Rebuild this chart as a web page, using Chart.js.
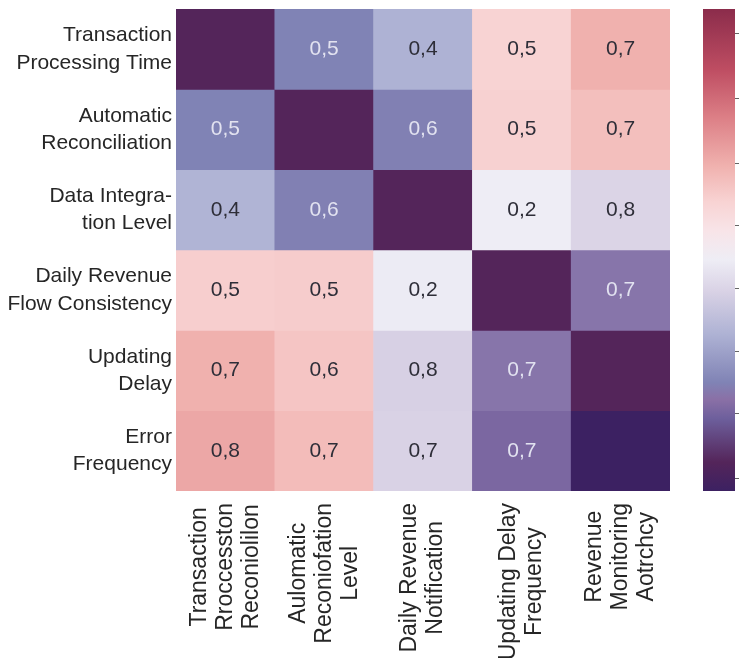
<!DOCTYPE html>
<html>
<head>
<meta charset="utf-8">
<script src="https://cdn.jsdelivr.net/npm/chart.js@4.4.1/dist/chart.umd.min.js"></script>
<style>
  html, body { margin: 0; padding: 0; background: #fff; overflow: hidden; }
  #wrap { position: relative; width: 739px; height: 658px; }
  #heat { position: absolute; left: 0; top: 0; }
  #bar { position: absolute; left: 703px; top: 0; }
</style>
</head>
<body>
<div id="wrap">
  <canvas id="heat" width="739" height="658"></canvas>
  <canvas id="bar" width="36" height="658"></canvas>
</div>
<script>
// rows (left labels)
const rowLabels = [
  ['Transaction', 'Processing Time'],
  ['Automatic', 'Reconciliation'],
  ['Data Integra-', 'tion Level'],
  ['Daily Revenue', 'Flow Consistency'],
  ['Updating', 'Delay'],
  ['Error', 'Frequency']
];

// columns (bottom labels)
const colLabels = [
  ['Transaction', 'Rroccesston', 'Reconiolilon'],
  ['Aulomatic', 'Reconiofation', 'Level'],
  ['Daily Revenue', 'Notification'],
  ['Updating Delay', 'Frequency'],
  ['Revenue', 'Monitoring', 'Aotrchcy']
];

// numbers written in the cells (null = blank)
const cellText = [
  [null, 0.5, 0.4, 0.5, 0.7],
  [0.5, null, 0.6, 0.5, 0.7],
  [0.4, 0.6, null, 0.2, 0.8],
  [0.5, 0.5, 0.2, null, 0.7],
  [0.7, 0.6, 0.8, 0.7, null],
  [0.8, 0.7, 0.7, 0.7, null]
];

// where each cell sits on the colour scale (-1 .. 1)
const cellShade = [
  [-0.88, -0.55, -0.35, 0.20, 0.35],
  [-0.55, -0.88, -0.56, 0.21, 0.29],
  [-0.34, -0.56, -0.88, -0.04, -0.16],
  [0.22, 0.23, -0.05, -0.88, -0.60],
  [0.35, 0.26, -0.18, -0.60, -0.88],
  [0.39, 0.30, -0.17, -0.66, -1.00]
];

// colour bar tick positions
const barTicks = [0.9, 0.63, 0.36, 0.1, -0.16, -0.42, -0.68, -0.95];

// colour map
const colorStops = [
  [-1.00, '#3c2162'],
  [-0.88, '#54255a'],
  [-0.70, '#6d5f9c'],
  [-0.62, '#8a70a6'],
  [-0.55, '#8083b5'],
  [-0.35, '#aeb2d4'],
  [-0.17, '#d9d2e5'],
  [-0.04, '#eeedf5'],
  [0.08, '#f8e4e8'],
  [0.20, '#f8d3d3'],
  [0.35, '#f0b1ae'],
  [0.55, '#dc7f86'],
  [0.75, '#be4d62'],
  [1.00, '#8b2c4b']
];

function hexRgb(h) {
  return [parseInt(h.slice(1, 3), 16), parseInt(h.slice(3, 5), 16), parseInt(h.slice(5, 7), 16)];
}

function shadeColor(v) {
  for (let i = 1; i < colorStops.length; i++) {
    const [v1, c1] = colorStops[i];
    const [v0, c0] = colorStops[i - 1];
    if (v <= v1) {
      const t = (v - v0) / (v1 - v0);
      const a = hexRgb(c0), b = hexRgb(c1);
      const m = a.map((x, k) => Math.round(x + (b[k] - x) * t));
      return 'rgb(' + m.join(',') + ')';
    }
  }
  return colorStops[colorStops.length - 1][1];
}

const FONT = '"Liberation Sans", Arial, sans-serif';

// numbers in the cells + rotated column names
const cellLabels = {
  id: 'cellLabels',
  afterDatasetsDraw(chart) {
    const ctx = chart.ctx;
    ctx.save();
    ctx.font = '21px ' + FONT;
    ctx.textAlign = 'center';
    ctx.textBaseline = 'middle';
    cellText.forEach((row, r) => {
      const meta = chart.getDatasetMeta(r);
      row.forEach((v, c) => {
        if (v === null) return;
        const p = meta.data[c].getCenterPoint();
        ctx.fillStyle = cellShade[r][c] <= -0.5 ? '#e2e2f0' : '#2e2e38';
        ctx.fillText(v.toFixed(1).replace('.', ','), p.x, p.y);
      });
    });

    const xs = chart.scales.x;
    ctx.font = '23px ' + FONT;
    ctx.fillStyle = '#262626';
    colLabels.forEach((lines, c) => {
      const x = xs.getPixelForValue(c);
      const widest = Math.max(...lines.map(t => ctx.measureText(t).width));
      ctx.save();
      ctx.translate(x, xs.top + 12 + widest / 2);
      ctx.rotate(-Math.PI / 2);
      lines.forEach((t, i) => ctx.fillText(t, 0, (i - (lines.length - 1) / 2) * 26));
      ctx.restore();
    });
    ctx.restore();
  }
};

new Chart(document.getElementById('heat'), {
  type: 'bar',
  data: {
    labels: colLabels.map(l => l.join(' ')),
    datasets: rowLabels.map((lab, r) => ({
      label: lab.join(' '),
      data: colLabels.map(() => [r, r + 1]),
      backgroundColor: cellShade[r].map(shadeColor),
      borderWidth: 0,
      grouped: false,
      barPercentage: 1,
      categoryPercentage: 1
    }))
  },
  options: {
    responsive: false,
    animation: false,
    layout: { padding: { top: 9, right: 69, left: 0, bottom: 0 } },
    plugins: { legend: { display: false }, tooltip: { enabled: false } },
    scales: {
      x: {
        ticks: { display: false },
        grid: { display: false, drawTicks: false },
        border: { display: false },
        afterFit: s => { s.height = 167; s.paddingLeft = 0; s.paddingRight = 0; }
      },
      y: {
        min: 0,
        max: 6,
        reverse: true,
        afterBuildTicks: s => { s.ticks = rowLabels.map((_, i) => ({ value: i + 0.5 })); },
        ticks: {
          autoSkip: false,
          callback: (v, i) => rowLabels[i],
          color: '#262626',
          font: { family: FONT, size: 21, lineHeight: 1.3 },
          padding: 4
        },
        grid: { display: false, drawTicks: false },
        border: { display: false },
        afterFit: s => { s.width = 176; s.paddingTop = 0; s.paddingBottom = 0; }
      }
    }
  },
  plugins: [cellLabels]
});

// colour bar
new Chart(document.getElementById('bar'), {
  type: 'bar',
  data: {
    labels: [''],
    datasets: [{
      data: [[-1, 1]],
      borderWidth: 0,
      barPercentage: 1,
      categoryPercentage: 1,
      backgroundColor: context => {
        const chart = context.chart;
        if (!chart.chartArea) return '#ccc';
        const y = chart.scales.y;
        const g = chart.ctx.createLinearGradient(0, y.getPixelForValue(-1), 0, y.getPixelForValue(1));
        colorStops.forEach(([v, c]) => g.addColorStop((v + 1) / 2, c));
        return g;
      }
    }]
  },
  options: {
    responsive: false,
    animation: false,
    layout: { padding: { top: 9, bottom: 167, left: 0, right: 0 } },
    plugins: { legend: { display: false }, tooltip: { enabled: false } },
    scales: {
      x: { display: false },
      y: {
        position: 'right',
        min: -1,
        max: 1,
        afterBuildTicks: s => { s.ticks = barTicks.map(v => ({ value: v })); },
        ticks: { display: false },
        grid: { drawOnChartArea: false, tickLength: 4, color: '#666' },
        border: { display: false },
        afterFit: s => { s.width = 4; s.paddingTop = 0; s.paddingBottom = 0; }
      }
    }
  }
});
</script>
</body>
</html>
